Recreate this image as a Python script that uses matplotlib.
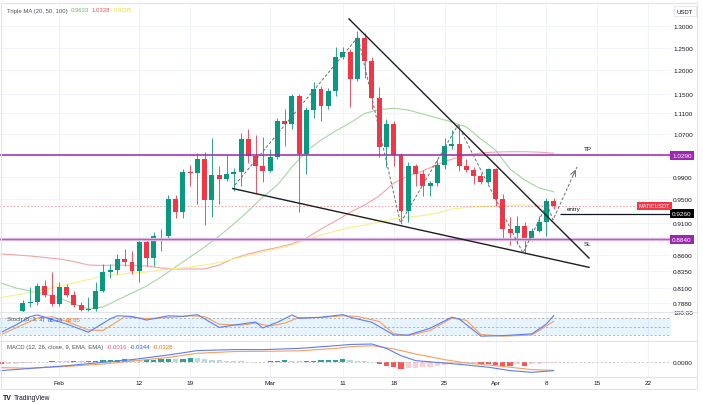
import matplotlib.pyplot as plt
import matplotlib.transforms as mtransforms
from matplotlib.patches import Rectangle
from matplotlib.lines import Line2D
from matplotlib.ticker import NullLocator
import numpy as np

plt.rcParams['font.family'] = ['Liberation Sans', 'DejaVu Sans']

# daily candles MATIC/USDT, day 0 = 1 Feb 2024 (first candle 27 Jan, last 9 Apr)
days = list(range(-5, 69))
opens = [0.7765, 0.7878, 0.7893, 0.8124, 0.7993,
         0.7864, 0.8109, 0.7993, 0.7849, 0.7786, 0.7800, 0.8051, 0.8339, 0.8355, 0.8531,
         0.8489, 0.8352, 0.8792, 0.8542, 0.8898, 0.8885, 0.9508, 0.9282, 0.9989, 0.9966,
         1.0221, 0.9496, 0.9930, 0.9858, 0.9942, 0.9989, 1.0597, 1.0283, 1.0098,
         1.0007, 1.0253, 1.0954, 1.0889, 1.1448, 1.0314, 1.1174, 1.1600, 1.1255, 1.1564,
         1.2285, 1.2396, 1.1811, 1.2721, 1.2210, 1.1413, 1.0440, 1.0889, 1.0296, 0.9312,
         1.0087, 0.9948, 0.9729, 0.9787, 1.0110, 1.0458, 1.0502, 1.0087, 1.0025, 0.9917,
         0.9799,
         1.0038, 0.9508, 0.9006, 0.8941, 0.9060, 0.8845, 0.8978, 0.9115, 0.9479]
highs = [0.7921, 0.8109, 0.8168, 0.8213, 0.8332,
         0.8183, 0.8153, 0.8051, 0.7893, 0.7964, 0.8183, 0.8454, 0.8454, 0.8608, 0.8686,
         0.8660, 0.8856, 0.8845, 0.8962, 0.9006, 0.9577, 0.9582, 1.0038, 1.0110, 1.0326,
         1.0345, 1.0611, 1.0097, 1.0296, 1.0051, 1.0713, 1.0798, 1.0674, 1.0630,
         1.0408, 1.1000, 1.1188, 1.1496, 1.1496, 1.1229, 1.1754, 1.1663, 1.1621, 1.2509,
         1.2509, 1.2470, 1.2890, 1.2837, 1.2292, 1.1636, 1.0988, 1.0948, 1.0333, 1.0166,
         1.0129, 1.0025, 0.9822, 1.0221, 1.0611, 1.0771, 1.0870, 1.0221, 1.0074, 0.9966,
         1.0056,
         1.0056, 0.9594, 0.9198, 0.9225, 0.9115, 0.9022, 0.9225, 0.9520, 0.9525]
lows = [0.7751, 0.7821, 0.7849, 0.7964, 0.7835,
        0.7835, 0.7964, 0.7821, 0.7765, 0.7765, 0.7765, 0.8036, 0.8242, 0.8302, 0.8428,
        0.8302, 0.8188, 0.8428, 0.8428, 0.8660, 0.8845, 0.9182, 0.9187, 0.9739, 0.9422,
        0.9071, 0.9208, 0.9422, 0.9822, 0.9651, 0.9739, 1.0147, 0.9612, 0.9810,
        0.9984, 1.0221, 1.0470, 1.0791, 0.9292, 0.9948, 1.1002, 1.0954, 1.1188, 1.1460,
        1.2247, 1.1223, 1.1769, 1.1827, 1.1188, 1.0253, 1.0069, 1.0097, 0.9088, 0.9115,
        0.9739, 0.9565, 0.9555, 0.9734, 1.0038, 1.0408, 1.0007, 0.9979, 0.9769, 0.9769,
        0.9769,
        0.9393, 0.8845, 0.8749, 0.8765, 0.8608, 0.8813, 0.8957, 0.8898, 0.9338]
closes = [0.7878, 0.7893, 0.8124, 0.7993, 0.7864,
          0.8109, 0.7993, 0.7849, 0.7786, 0.7800, 0.8051, 0.8339, 0.8355, 0.8531, 0.8489,
          0.8352, 0.8792, 0.8542, 0.8898, 0.8885, 0.9508, 0.9282, 0.9989, 0.9966, 1.0221,
          0.9496, 0.9930, 0.9858, 0.9942, 0.9989, 1.0597, 1.0283, 1.0098, 1.0007,
          1.0253, 1.0954, 1.0889, 1.1448, 1.0314, 1.1174, 1.1600, 1.1255, 1.1564, 1.2285,
          1.2396, 1.1811, 1.2721, 1.2210, 1.1413, 1.0440, 1.0889, 1.0296, 0.9312, 1.0087,
          0.9948, 0.9729, 0.9787, 1.0110, 1.0458, 1.0502, 1.0087, 1.0025, 0.9917, 0.9799,
          1.0038,
          0.9508, 0.9006, 0.8941, 0.9060, 0.8845, 0.8978, 0.9115, 0.9479, 0.9393]

# triple moving average, every second day
ma_days = list(range(-8, 69, 2))
ma20 = [0.8168, 0.8095, 0.8051, 0.8007, 0.7950, 0.7864, 0.7793, 0.7821, 0.7921, 0.8022,
        0.8124, 0.8257, 0.8408, 0.8562, 0.8717, 0.8893, 0.9088, 0.9304, 0.9543, 0.9752,
        1.0074, 1.0370, 1.0578, 1.0752, 1.0909, 1.1098, 1.1178, 1.1202, 1.1168, 1.1088,
        1.1008, 1.0928, 1.0830, 1.0597, 1.0389, 1.0038, 0.9840, 0.9699, 0.9633]
ma50 = [0.8608, 0.8593, 0.8577, 0.8554, 0.8531, 0.8492, 0.8438, 0.8431, 0.8438, 0.8431,
        0.8423, 0.8393, 0.8378, 0.8378, 0.8378, 0.8438, 0.8539, 0.8608, 0.8663, 0.8710,
        0.8765, 0.8861, 0.9006, 0.9137, 0.9282, 0.9405, 0.9560, 0.9787, 0.9912, 1.0002,
        1.0120, 1.0221, 1.0296, 1.0333, 1.0351, 1.0357, 1.0357, 1.0348, 1.0328]
ma100 = [0.7957, 0.7993, 0.8029, 0.8073, 0.8120, 0.8168, 0.8220, 0.8272, 0.8294, 0.8317,
         0.8332, 0.8362, 0.8385, 0.8408, 0.8438, 0.8477, 0.8531, 0.8585, 0.8639, 0.8694,
         0.8749, 0.8829, 0.8909, 0.8973, 0.9034, 0.9071, 0.9121, 0.9170, 0.9203, 0.9228,
         0.9270, 0.9338, 0.9363, 0.9380, 0.9392, 0.9400, 0.9405, 0.9397, 0.9395]

# stochastic (5, 3, 3)
k_days = [-8, -6, -4, -3, 1, 4, 7, 8, 10, 12, 15, 17, 19, 20, 22, 24, 27, 28, 30, 32,
          33, 36, 39, 40, 43, 46, 48, 51, 54, 55, 58, 61, 65, 67, 68]
k_vals = [30, 55, 85, 91, 59, 30, 77, 88, 86, 73, 88, 86, 92, 77, 47, 55, 66, 45, 65, 91,
          79, 83, 92, 83, 65, 20, 20, 44, 83, 77, 16, 18, 24, 59, 88.34]
d_days = [-8, -6, -3, -1, 1, 4, 6, 8, 9, 12, 15, 18, 20, 22, 25, 27, 29, 31, 33, 36,
          39, 41, 44, 46, 48, 51, 54, 56, 58, 61, 65, 68]
d_vals = [22, 45, 80, 85, 68, 38, 36, 68, 85, 78, 82, 88, 85, 58, 55, 62, 52, 62, 82, 82,
          88, 86, 68, 25, 18, 36, 80, 72, 22, 16, 20, 68.65]

# MACD (12, 26, 9)
macd_days = [-8, -4, 1, 6, 10, 15, 19, 24, 28, 33, 38, 40, 43, 45, 47, 49, 53, 56, 59, 62, 65, 68]
macd_vals = [-0.034, -0.025, -0.014, 0.0, 0.011, 0.030, 0.048, 0.052, 0.052, 0.057, 0.068,
             0.073, 0.075, 0.057, 0.027, 0.007, -0.003, -0.011, -0.020, -0.034, -0.041, -0.0344]
signal_days = [-8, -4, 1, 6, 15, 19, 24, 28, 33, 38, 40, 43, 46, 49, 53, 56, 59, 62, 65, 68]
signal_vals = [-0.022, -0.024, -0.017, -0.007, 0.020, 0.037, 0.044, 0.045, 0.047, 0.057,
               0.064, 0.068, 0.055, 0.034, 0.011, -0.003, -0.011, -0.020, -0.030, -0.0328]
hist_days = list(range(-8, 69))
hist_vals = [-0.0062, -0.0062, -0.0049, -0.0033, -0.0012,
             0.0012, 0.0025, 0.0033, 0.0033, 0.0033,
             0.0041, 0.0041, 0.0049, 0.0062, 0.0074,
             0.0082, 0.0103, 0.0115, 0.0103, 0.0082,
             0.0090, 0.0103, 0.0115, 0.0123, 0.0123,
             0.0144, 0.0164, 0.0164, 0.0131, 0.0103,
             0.0074, 0.0049, 0.0041, 0.0033, 0.0025,
             0.0016, 0.0021, 0.0041, 0.0062, 0.0074,
             0.0057, 0.0041, 0.0053, 0.0066, 0.0074,
             0.0082, 0.0098, 0.0115, 0.0090, 0.0062,
             0.0041, 0.0012, -0.0082, -0.0144, -0.0205,
             -0.0287, -0.0246, -0.0226, -0.0205, -0.0185,
             -0.0164, -0.0123, -0.0082, -0.0049, -0.0041,
             -0.0033, -0.0049, -0.0062, -0.0123, -0.0144,
             -0.0164, -0.0082, -0.0164, -0.0082, -0.0062,
             -0.0041, -0.0016]

# drawings: levels, wedge lines and the dashed projection
tp_level = 1.0290
entry_level = 0.9260
sl_level = 0.8840
upper_wedge = ([39.85, 72.86], [1.3167, 0.8546])
lower_wedge = ([23.85, 72.86], [0.9690, 0.8403])
path_days = [24.17, 41.09, 46.93, 54.84, 63.78, 67.08, 67.91, 71.2]
path_prices = [0.9752, 1.2744, 0.9104, 1.0870, 0.8624, 0.9422, 0.9154, 1.0074]

price_ticks = [1.30, 1.25, 1.20, 1.15, 1.11, 1.07, 1.03, 0.99, 0.95, 0.91, 0.885, 0.86,
               0.835, 0.81, 0.788]
date_ticks = [0, 11, 18, 29, 39, 46, 53, 60, 67, 74, 81]
date_labels = ['Feb', '12', '19', 'Mar', '11', '18', '25', 'Apr', '8', '15', '22']

GREEN = '#089981'
RED = '#f23645'
GRID = '#f0f3fa'
BORDER = '#e0e3eb'
TXT = '#131722'

W, H = 703, 406
fig = plt.figure(figsize=(W / 100, H / 100), dpi=100)


def rect(x0, y0, x1, y1):
    return [x0 / W, 1 - y1 / H, (x1 - x0) / W, (y1 - y0) / H]


ax = fig.add_axes(rect(0, 4, 671, 312.5))
ax_st = fig.add_axes(rect(0, 312.5, 671, 341.7), sharex=ax)
ax_md = fig.add_axes(rect(0, 341.7, 671, 378), sharex=ax)

for a in (ax, ax_st, ax_md):
    for s in a.spines.values():
        s.set_visible(False)
    a.yaxis.tick_right()
    a.tick_params(axis='both', length=0, labelsize=4.6, labelcolor=TXT, pad=1.5)
    a.grid(True, axis='x', color=GRID, lw=0.7)
    a.set_axisbelow(True)

ax.set_xlim(-8.157, 84.14)
ax_md.set_xticks(date_ticks)
ax_md.set_xticklabels(date_labels)
ax_md.tick_params(axis='x', pad=2.5)
ax.tick_params(labelbottom=False)
ax_st.tick_params(labelbottom=False)

# ---- main price pane ----
ax.set_yscale('log')
ax.set_ylim(0.7758, 1.3552)
ax.yaxis.set_minor_locator(NullLocator())
ax.set_yticks(price_ticks)
ax.set_yticklabels([f'{v:.4f}' for v in price_ticks])
ax.grid(True, axis='y', color=GRID, lw=0.7)

ax.plot(ma_days, ma20, color='#a8d5a2', lw=0.8, zorder=2)
ax.plot(ma_days, ma50, color='#f5a3a3', lw=0.8, zorder=2)
ax.plot(ma_days, ma100, color='#f7ee8a', lw=0.8, zorder=2)

o = np.array(opens)
c = np.array(closes)
cols = np.where(c >= o, GREEN, RED)
ax.vlines(days, lows, highs, colors=cols, lw=0.6, zorder=3)
body_lo = np.minimum(o, c)
body_h = np.maximum(np.abs(c - o), body_lo * 0.0016)
ax.bar(days, body_h, bottom=body_lo, width=0.68, color=cols, lw=0, zorder=4)

ax.axhline(closes[-1], color=RED, lw=0.7, ls=(0, (1.5, 2)), alpha=0.5, zorder=2)
ax.axhline(tp_level, color='#9c27b0', lw=1.1, zorder=5)
ax.axhline(sl_level, color='#dab4e4', lw=2.4, zorder=5)
ax.axhline(sl_level, color='#b05cc8', lw=0.7, zorder=5)
ax.hlines(entry_level, 68.9, 84.14, color=TXT, lw=0.9, zorder=5)

ax.plot(*upper_wedge, color='#1e1e1e', lw=1.0, zorder=6)
ax.plot(*lower_wedge, color='#1e1e1e', lw=1.0, zorder=6)
ax.plot(path_days, path_prices, color='#6b6e78', lw=0.7, ls=(0, (3, 2)), zorder=6)
tail = (path_days[-2] + 0.8 * (path_days[-1] - path_days[-2]),
        np.exp(np.log(path_prices[-2]) + 0.8 * (np.log(path_prices[-1]) - np.log(path_prices[-2]))))
ax.annotate('', xy=(path_days[-1], path_prices[-1]), xytext=tail,
            arrowprops=dict(arrowstyle='->', color='#6b6e78', lw=0.7), zorder=6)

ax.text(72.2, 1.0426, 'TP', fontsize=4.5, color=TXT, va='center')
ax.text(69.8, 0.9338, 'entry', fontsize=4.5, color=TXT, va='center')
ax.text(72.2, 0.8780, 'SL', fontsize=4.5, color=TXT, va='center')

tag_tf = mtransforms.blended_transform_factory(ax.transAxes, ax.transData)
for lvl, fc in ((tp_level, '#9c27b0'), (entry_level, '#000000'), (sl_level, '#9c27b0')):
    ax.text(1.0015, lvl, f'{lvl:.4f}', transform=tag_tf, ha='left', va='center', fontsize=4.6,
            color='white', zorder=10,
            bbox=dict(boxstyle='square,pad=0.3', fc=fc, ec='none'))
ax.text(0.9985, closes[-1], 'MATICUSDT', transform=tag_tf, ha='right', va='center',
        fontsize=4.0, color='white', zorder=10,
        bbox=dict(boxstyle='square,pad=0.3', fc=RED, ec='none'))

# ---- stochastic pane ----
ax_st.set_ylim(0, 103.2)
ax_st.axhspan(20, 80, color='#2196f3', alpha=0.1, lw=0)
for lv in (80, 50, 20):
    ax_st.axhline(lv, color='#9598a1', lw=0.5, ls=(0, (3, 3)))
ax_st.plot(d_days, d_vals, color='#f6a05a', lw=0.8)
ax_st.plot(k_days, k_vals, color='#5b7df5', lw=0.8)
ax_st.set_yticks([100])
ax_st.set_yticklabels(['100.00'])

# ---- MACD pane ----
ax_md.set_ylim(-0.0602, 0.0885)
ax_md.axhline(0, color='#b2b5be', lw=0.5, ls=(0, (3, 3)))
hcols = []
prev = 0.0
for v in hist_vals:
    if v >= 0:
        hcols.append('#26a69a' if v > prev else '#b2dfdb')
    else:
        hcols.append('#ff5252' if v < prev else '#ffcdd2')
    prev = v
ax_md.bar(hist_days, hist_vals, width=0.72, color=hcols, lw=0)
ax_md.plot(signal_days, signal_vals, color='#f6a05a', lw=0.8)
ax_md.plot(macd_days, macd_vals, color='#5b7df5', lw=0.8)
ax_md.set_yticks([0])
ax_md.set_yticklabels(['0.0000'])

# ---- frame, separators and legends ----
fig.add_artist(Rectangle((0.5 / W, 1 - 390 / H), 696.5 / W, 386 / H, transform=fig.transFigure,
                         fill=False, ec=BORDER, lw=0.8))
for yy in (312.5, 341.7, 378):
    fig.add_artist(Line2D([0, 697 / W], [1 - yy / H] * 2, transform=fig.transFigure,
                          color=BORDER, lw=0.8))


def legend_row(x_px, y_px, parts):
    x = x_px / W
    for txt, col in parts:
        t = fig.text(x, 1 - y_px / H, txt, fontsize=4.3, color=col, va='center', ha='left')
        fig.canvas.draw_idle()
        bb = t.get_window_extent(renderer=fig.canvas.get_renderer())
        x += (bb.width + 3) / W


legend_row(7, 11, [('Triple MA (20, 50, 100)', '#50535e'), (f'{ma20[-1]:.4f}', '#66bb6a'),
                   (f'{ma50[-1]:.4f}', '#ef5350'), (f'{ma100[-1]:.4f}', '#f2de2c')])
legend_row(7, 320, [('Stoch (5, 3, 3)', '#50535e'), (f'{k_vals[-1]:.2f}', '#2962ff'),
                    (f'{d_vals[-1]:.2f}', '#ff6d00')])
legend_row(7, 348, [('MACD (12, 26, close, 9, EMA, EMA)', '#50535e'),
                    (f'{hist_vals[-1]:.4f}', '#f7525f'), (f'{macd_vals[-1]:.4f}', '#2962ff'),
                    (f'{signal_vals[-1]:.4f}', '#ff6d00')])

fig.text(685 / W, 1 - 12 / H, 'USDT', fontsize=4.3, color=TXT, ha='center', va='center',
         bbox=dict(boxstyle='square,pad=0.4', fc='white', ec=BORDER, lw=0.6))
fig.text(3 / W, 1 - 399 / H, 'TV', fontsize=5, color=TXT, weight='bold', va='center')
fig.text(14 / W, 1 - 399 / H, 'TradingView', fontsize=4.8, color=TXT, va='center')

fig.savefig('out.png', dpi=100)
